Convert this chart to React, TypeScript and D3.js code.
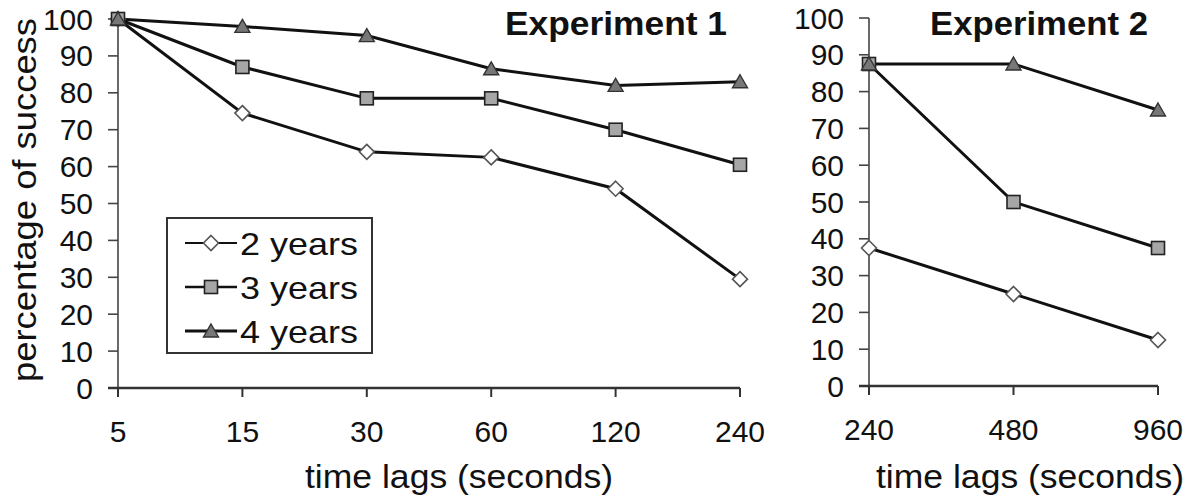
import React from 'react';
import * as d3 from 'd3';

// experiment 1
const lags1 = ['5', '15', '30', '60', '120', '240'];
const exp1Years2 = [100, 74.5, 64, 62.5, 54, 29.5];
const exp1Years3 = [100, 87, 78.5, 78.5, 70, 60.5];
const exp1Years4 = [100, 98, 95.5, 86.5, 82, 83];

// experiment 2
const lags2 = ['240', '480', '960'];
const exp2Years2 = [37.5, 25, 12.5];
const exp2Years3 = [87.5, 50, 37.5];
const exp2Years4 = [87.5, 87.5, 75];

const yTicks = [0, 10, 20, 30, 40, 50, 60, 70, 80, 90, 100];
const seriesNames = ['2 years', '3 years', '4 years'];

const FONT = 'Arial, "Liberation Sans", sans-serif';

type Kind = 'diamond' | 'square' | 'triangle';
const kinds: Kind[] = ['diamond', 'square', 'triangle'];

const Marker = ({ kind, x, y }: { kind: Kind; x: number; y: number }) => {
    if (kind === 'diamond') {
        const r = 7.5;
        return <path d={`M${x},${y - r}L${x + r},${y}L${x},${y + r}L${x - r},${y}Z`}
            fill="#fff" stroke="#555" strokeWidth={1.6} />;
    }
    if (kind === 'square') {
        const r = 6.5;
        return <rect x={x - r} y={y - r} width={2 * r} height={2 * r}
            fill="#a6a6a6" stroke="#222" strokeWidth={1.6} />;
    }
    const w = 7.5, h = 7;
    return <path d={`M${x},${y - h}L${x + w},${y + h - 1}L${x - w},${y + h - 1}Z`}
        fill="#777" stroke="#333" strokeWidth={1.4} />;
};

interface PanelProps {
    lags: string[];
    series: number[][];
    x0: number;
    x1: number;
    yBottom: number;
    yTop: number;
    title: string;
    titleX: number;
    titleLen: number;
    xTitleX: number;
    xTitleLen: number;
}

const Panel = ({ lags, series, x0, x1, yBottom, yTop, title, titleX, titleLen, xTitleX, xTitleLen }: PanelProps) => {
    const x = d3.scalePoint<string>().domain(lags).range([x0, x1]);
    const y = d3.scaleLinear().domain([0, 100]).range([yBottom, yTop]);
    const line = d3.line<number>().x((_, i) => x(lags[i])!).y(d => y(d));

    return (
        <g>
            {/* y axis */}
            <line x1={x0} x2={x0} y1={y(100)} y2={y(0)} stroke="#444" strokeWidth={1.6} />
            {yTicks.map(t => (
                <g key={t}>
                    <line x1={x0 - 10} x2={x0} y1={y(t)} y2={y(t)} stroke="#444" strokeWidth={1.6} />
                    <text x={x0 - 25} y={y(t) + 10.5} textAnchor="end" fontSize={30} fontFamily={FONT} fill="#111">{t}</text>
                </g>
            ))}
            {/* x axis */}
            <line x1={x0 - 10} x2={x1} y1={y(0)} y2={y(0)} stroke="#333" strokeWidth={2.4} />
            {lags.map(l => (
                <g key={l}>
                    <line x1={x(l)!} x2={x(l)!} y1={y(0)} y2={y(0) + 9} stroke="#333" strokeWidth={2} />
                    <text x={x(l)!} y={y(0) + 54} textAnchor="middle" fontSize={30} fontFamily={FONT} fill="#111">{l}</text>
                </g>
            ))}
            <text x={xTitleX} y={488} fontSize={34} fontFamily={FONT} fill="#111"
                textLength={xTitleLen} lengthAdjust="spacingAndGlyphs">time lags (seconds)</text>
            <text x={titleX} y={35} fontSize={34} fontWeight="bold" fontFamily={FONT} fill="#111"
                textLength={titleLen} lengthAdjust="spacingAndGlyphs">{title}</text>

            {series.map((s, k) => (
                <path key={k} d={line(s)!} fill="none" stroke="#111" strokeWidth={3} />
            ))}
            {series.map((s, k) => (
                <g key={'m' + k}>
                    {s.map((v, i) => <Marker key={i} kind={kinds[k]} x={x(lags[i])!} y={y(v)} />)}
                </g>
            ))}
        </g>
    );
};

export default function App() {
    const width = 1189;
    const height = 499;
    const legendRows = [243, 287, 331];

    return (
        <svg width={width} height={height} style={{ position: 'absolute', left: 0, top: 0, background: '#fff' }}>
            <rect width={width} height={height} fill="#fff" />
            <Panel lags={lags1} series={[exp1Years2, exp1Years3, exp1Years4]}
                x0={118} x1={740} yBottom={388} yTop={19}
                title="Experiment 1" titleX={505} titleLen={222} xTitleX={305} xTitleLen={308} />
            <Panel lags={lags2} series={[exp2Years2, exp2Years3, exp2Years4]}
                x0={869} x1={1158} yBottom={386} yTop={18}
                title="Experiment 2" titleX={930} titleLen={218} xTitleX={876} xTitleLen={308} />

            <text transform="translate(36,382) rotate(-90)" fontSize={34} fontFamily={FONT} fill="#111"
                textLength={364} lengthAdjust="spacingAndGlyphs">percentage of success</text>

            {/* legend */}
            <rect x={167} y={218} width={205} height={135} fill="#fff" stroke="#333" strokeWidth={2} />
            {seriesNames.map((name, k) => (
                <g key={name}>
                    <line x1={185} x2={237} y1={legendRows[k]} y2={legendRows[k]} stroke="#111" strokeWidth={2 + k * 0.6} />
                    <Marker kind={kinds[k]} x={211} y={legendRows[k]} />
                    <text x={240} y={legendRows[k] + 12} fontSize={32} fontFamily={FONT} fill="#111"
                        textLength={118} lengthAdjust="spacingAndGlyphs">{name}</text>
                </g>
            ))}
        </svg>
    );
}
